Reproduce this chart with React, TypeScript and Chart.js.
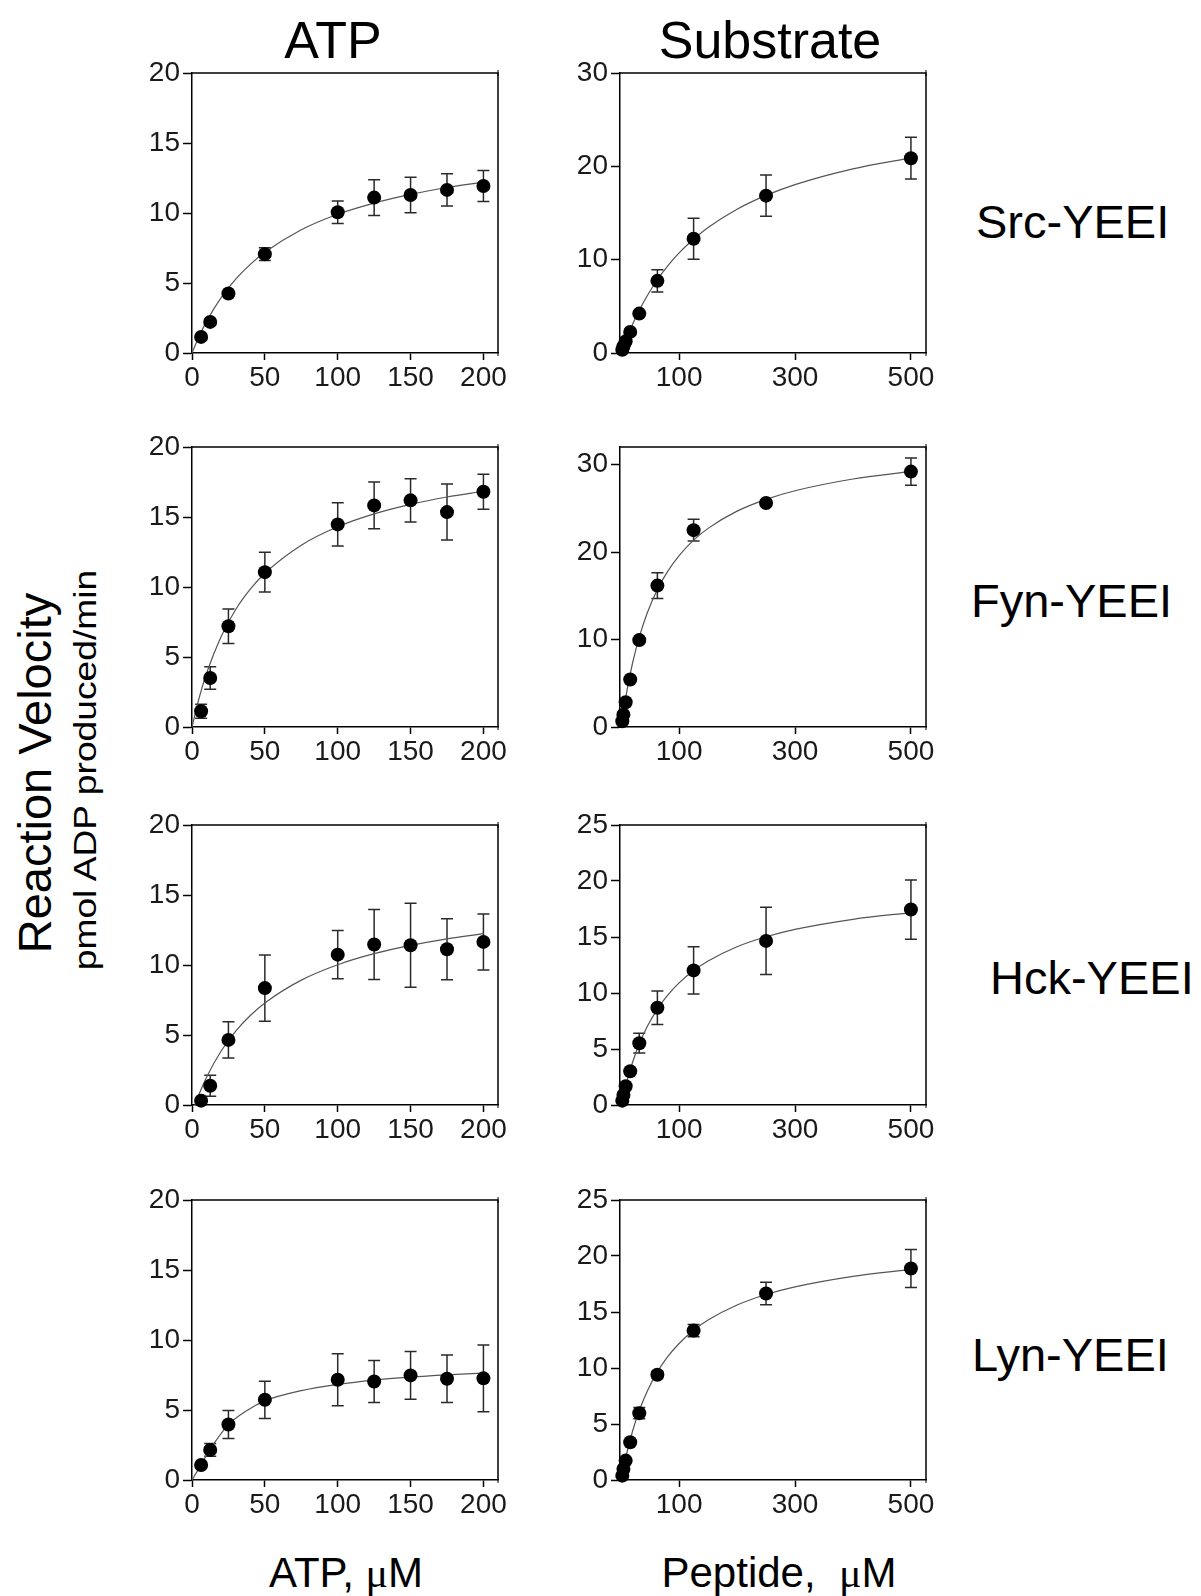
import React, { useEffect, useRef } from "react";
import { Chart, registerables } from "chart.js";

Chart.register(...registerables);

// ---------------- Data ----------------
const atpConc = [6.25, 12.5, 25, 50, 100, 125, 150, 175, 200];
const peptideConc = [1.95, 3.9, 7.8, 15.6, 31.25, 62.5, 125, 250, 500];

const atpXTicks = [0, 50, 100, 150, 200];
const peptideXTicks = [100, 300, 500];
const yTicks20 = [0, 5, 10, 15, 20];
const yTicks30 = [0, 10, 20, 30];
const yTicks25 = [0, 5, 10, 15, 20, 25];

const atpFitX = [0, 5, 10, 20, 30, 40, 50, 75, 100, 125, 150, 175, 200];
const pepFitX = [0, 5, 10, 20, 31.25, 45, 62.5, 80, 100, 125, 150, 200, 250, 300, 400, 500];

// Src-YEEI
const srcAtpV = [1.15, 2.22, 4.25, 7.06, 10.05, 11.1, 11.29, 11.65, 11.93];
const srcAtpErr = [0, 0, 0, 0.45, 0.8, 1.27, 1.27, 1.15, 1.1];
const srcAtpFitY = [0, 1.21, 2.26, 3.95, 5.27, 6.33, 7.19, 8.8, 9.91, 10.71, 11.33, 11.82, 12.21];
const srcPepV = [0.35, 0.7, 1.25, 2.26, 4.22, 7.73, 12.24, 16.86, 20.87];
const srcPepErr = [0, 0, 0, 0, 0, 1.2, 2.2, 2.2, 2.24];
const srcPepFitY = [0, 0.85, 1.66, 3.12, 4.58, 6.14, 7.85, 9.3, 10.72, 12.18, 13.45, 15.41, 16.89, 18.04, 19.73, 20.9];

// Fyn-YEEI
const fynAtpV = [1.12, 3.5, 7.2, 11.06, 14.47, 15.83, 16.19, 15.35, 16.8];
const fynAtpErr = [0.5, 0.8, 1.23, 1.42, 1.55, 1.67, 1.55, 2.0, 1.25];
const fynAtpFitY = [0, 2.12, 3.84, 6.47, 8.39, 9.84, 10.98, 12.99, 14.3, 15.22, 15.9, 16.43, 16.84];
const fynPepV = [0.65, 1.41, 2.83, 5.43, 9.93, 16.16, 22.5, 25.6, 29.19];
const fynPepErr = [0, 0, 0, 0, 0, 1.47, 1.25, 0, 1.55];
const fynPepFitY = [0, 2.22, 4.16, 7.4, 10.28, 13.03, 15.71, 17.76, 19.59, 21.35, 22.7, 24.67, 26.02, 27.0, 28.34, 29.21];

// Hck-YEEI
const hckAtpV = [0.31, 1.38, 4.65, 8.35, 10.74, 11.46, 11.41, 11.12, 11.65];
const hckAtpErr = [0, 0.75, 1.3, 2.36, 1.72, 2.5, 3.0, 2.18, 2.0];
const hckAtpFitX = [2, 5, 10, 20, 30, 40, 50, 75, 100, 125, 150, 175, 200];
const hckAtpFitY = [0, 0.81, 1.99, 3.86, 5.28, 6.39, 7.29, 8.92, 10.02, 10.81, 11.4, 11.87, 12.24];
const hckPepV = [0.39, 0.9, 1.67, 3.01, 5.52, 8.68, 12.02, 14.65, 17.45];
const hckPepErr = [0, 0, 0, 0, 0.88, 1.5, 2.1, 3.0, 2.64];
const hckPepFitY = [0, 1.13, 2.13, 3.86, 5.44, 7.0, 8.56, 9.78, 10.9, 12.0, 12.86, 14.13, 15.02, 15.68, 16.58, 17.18];

// Lyn-YEEI
const lynAtpV = [1.07, 2.15, 3.96, 5.73, 7.16, 7.04, 7.47, 7.23, 7.26];
const lynAtpErr = [0, 0.45, 1.0, 1.33, 1.86, 1.5, 1.7, 1.7, 2.39];
const lynAtpFitX = [0, 6.25, 12.5, 25, 37.5, 50, 75, 100, 125, 150, 175, 200];
const lynAtpFitY = [0, 1.1, 2.2, 3.95, 4.95, 5.65, 6.38, 6.83, 7.14, 7.35, 7.51, 7.64];
const lynPepV = [0.39, 0.98, 1.73, 3.37, 5.97, 9.4, 13.34, 16.65, 18.88];
const lynPepErr = [0, 0, 0, 0, 0.5, 0.3, 0.55, 1.0, 1.7];
const lynPepFitY = [0, 1.3, 2.46, 4.42, 6.2, 7.93, 9.65, 10.99, 12.19, 13.37, 14.28, 15.62, 16.56, 17.24, 18.18, 18.8];

const rowLabels = ["Src-YEEI", "Fyn-YEEI", "Hck-YEEI", "Lyn-YEEI"];

// ---------------- Layout ----------------
const COL_LEFT = [192, 620];
const ROW_TOP = [73, 447, 825, 1200];
const PLOT_W = 306;
const PLOT_H = 280;
const AX_W = 70;
const PAD_TOP = 20;
const PAD_RIGHT = 15;
const AX_H = 45;

type PanelDef = {
  col: number;
  row: number;
  x: number[];
  y: number[];
  err: number[];
  fx: number[];
  fy: number[];
  xMin: number;
  xMax: number;
  yMax: number;
  xTicks: number[];
  yTicks: number[];
};

const panels: PanelDef[] = [
  { col: 0, row: 0, x: atpConc, y: srcAtpV, err: srcAtpErr, fx: atpFitX, fy: srcAtpFitY, xMin: 0, xMax: 210, yMax: 20, xTicks: atpXTicks, yTicks: yTicks20 },
  { col: 1, row: 0, x: peptideConc, y: srcPepV, err: srcPepErr, fx: pepFitX, fy: srcPepFitY, xMin: -2, xMax: 526, yMax: 30, xTicks: peptideXTicks, yTicks: yTicks30 },
  { col: 0, row: 1, x: atpConc, y: fynAtpV, err: fynAtpErr, fx: atpFitX, fy: fynAtpFitY, xMin: 0, xMax: 210, yMax: 20, xTicks: atpXTicks, yTicks: yTicks20 },
  { col: 1, row: 1, x: peptideConc, y: fynPepV, err: fynPepErr, fx: pepFitX, fy: fynPepFitY, xMin: -2, xMax: 526, yMax: 32, xTicks: peptideXTicks, yTicks: yTicks30 },
  { col: 0, row: 2, x: atpConc, y: hckAtpV, err: hckAtpErr, fx: hckAtpFitX, fy: hckAtpFitY, xMin: 0, xMax: 210, yMax: 20, xTicks: atpXTicks, yTicks: yTicks20 },
  { col: 1, row: 2, x: peptideConc, y: hckPepV, err: hckPepErr, fx: pepFitX, fy: hckPepFitY, xMin: -2, xMax: 526, yMax: 25, xTicks: peptideXTicks, yTicks: yTicks25 },
  { col: 0, row: 3, x: atpConc, y: lynAtpV, err: lynAtpErr, fx: lynAtpFitX, fy: lynAtpFitY, xMin: 0, xMax: 210, yMax: 20, xTicks: atpXTicks, yTicks: yTicks20 },
  { col: 1, row: 3, x: peptideConc, y: lynPepV, err: lynPepErr, fx: pepFitX, fy: lynPepFitY, xMin: -2, xMax: 526, yMax: 25, xTicks: peptideXTicks, yTicks: yTicks25 },
];

const FONT = '"Liberation Sans", Arial, Helvetica, sans-serif';

const boxPlugin = {
  id: "boxFrame",
  beforeDatasetsDraw(chart: any) {
    const { ctx, chartArea: a } = chart;
    ctx.save();
    ctx.strokeStyle = "#000";
    ctx.lineWidth = 1.5;
    ctx.beginPath();
    ctx.moveTo(a.left, a.top);
    ctx.lineTo(a.right, a.top);
    ctx.lineTo(a.right, a.bottom);
    ctx.stroke();
    // small corner marks
    ctx.lineWidth = 1;
    ctx.beginPath();
    ctx.moveTo(a.right, a.top - 3);
    ctx.lineTo(a.right, a.top + 3);
    ctx.moveTo(a.right, a.bottom);
    ctx.lineTo(a.right, a.bottom + 3);
    ctx.stroke();
    ctx.restore();
  },
};

const errorBarPlugin = {
  id: "errorBars",
  beforeDatasetsDraw(chart: any) {
    const { ctx } = chart;
    const xs = chart.scales.x;
    const ys = chart.scales.y;
    chart.data.datasets.forEach((ds: any) => {
      if (!ds.errors) return;
      ctx.save();
      ctx.strokeStyle = "#2a2a2a";
      ctx.lineWidth = 1.5;
      ds.data.forEach((pt: any, i: number) => {
        const e = ds.errors[i];
        if (!e) return;
        const px = xs.getPixelForValue(pt.x);
        const yTop = ys.getPixelForValue(pt.y + e);
        const yBot = ys.getPixelForValue(pt.y - e);
        const cap = 6;
        ctx.beginPath();
        ctx.moveTo(px, yTop);
        ctx.lineTo(px, yBot);
        ctx.moveTo(px - cap, yTop);
        ctx.lineTo(px + cap, yTop);
        ctx.moveTo(px - cap, yBot);
        ctx.lineTo(px + cap, yBot);
        ctx.stroke();
      });
      ctx.restore();
    });
  },
};

function Panel({ p }: { p: PanelDef }) {
  const ref = useRef<HTMLCanvasElement>(null);
  const cw = AX_W + PLOT_W + PAD_RIGHT;
  const chH = PAD_TOP + PLOT_H + AX_H;
  useEffect(() => {
    if (!ref.current) return;
    const tickFont = { family: FONT, size: 28 };
    const chart = new Chart(ref.current, {
      type: "scatter",
      data: {
        datasets: [
          {
            data: p.x.map((x, i) => ({ x, y: p.y[i] })),
            pointRadius: 7,
            pointHoverRadius: 7,
            pointBackgroundColor: "#000",
            pointBorderColor: "#000",
            pointBorderWidth: 0,
            backgroundColor: "#000",
            borderColor: "#000",
            clip: false,
            errors: p.err,
          } as any,
          {
            type: "line",
            data: p.fx.map((x, i) => ({ x, y: p.fy[i] })),
            showLine: true,
            borderColor: "#555",
            borderWidth: 1.2,
            pointRadius: 0,
            pointHoverRadius: 0,
            fill: false,
            cubicInterpolationMode: "monotone",
            clip: false,
          } as any,
        ],
      },
      options: {
        responsive: false,
        animation: false,
        devicePixelRatio: 1,
        events: [],
        layout: { padding: { top: PAD_TOP, right: PAD_RIGHT, left: 0, bottom: 0 } },
        plugins: { legend: { display: false }, tooltip: { enabled: false } },
        scales: {
          x: {
            type: "linear",
            min: p.xMin,
            max: p.xMax,
            afterBuildTicks: (s: any) => {
              s.ticks = p.xTicks.map((v) => ({ value: v }));
            },
            afterFit: (s: any) => {
              s.height = AX_H;
            },
            border: { display: true, color: "#000", width: 1.5 },
            grid: {
              display: true,
              drawOnChartArea: false,
              drawTicks: true,
              tickLength: 7,
              tickColor: "#000",
              tickWidth: 1.5,
            },
            ticks: {
              color: "#1a1a1a",
              font: tickFont,
              padding: 1,
              maxRotation: 0,
              autoSkip: false,
              callback: (v: any) => String(v),
            },
          },
          y: {
            type: "linear",
            min: 0,
            max: p.yMax,
            afterBuildTicks: (s: any) => {
              s.ticks = p.yTicks.map((v) => ({ value: v }));
            },
            afterFit: (s: any) => {
              s.width = AX_W;
            },
            border: { display: true, color: "#000", width: 1.5 },
            grid: {
              display: true,
              drawOnChartArea: false,
              drawTicks: true,
              tickLength: 9,
              tickColor: "#000",
              tickWidth: 1.5,
            },
            ticks: {
              color: "#1a1a1a",
              font: tickFont,
              padding: 3,
              autoSkip: false,
              callback: (v: any) => String(v),
            },
          },
        },
      } as any,
      plugins: [boxPlugin, errorBarPlugin],
    });
    return () => chart.destroy();
  }, []);
  return (
    <canvas
      ref={ref}
      width={cw}
      height={chH}
      style={{
        position: "absolute",
        left: COL_LEFT[p.col] - AX_W,
        top: ROW_TOP[p.row] - PAD_TOP,
        width: cw,
        height: chH,
      }}
    />
  );
}

const mu = (
  <span style={{ fontFamily: '"Liberation Serif", "DejaVu Serif", serif' }}>μ</span>
);

function Label({
  text,
  left,
  top,
  size,
  center,
}: {
  text: any;
  left: number;
  top: number;
  size: number;
  center?: boolean;
}) {
  return (
    <div
      style={{
        position: "absolute",
        left,
        top,
        fontSize: size,
        lineHeight: `${size}px`,
        whiteSpace: "nowrap",
        transform: center ? "translateX(-50%)" : undefined,
      }}
    >
      {text}
    </div>
  );
}

export default function App() {
  const rowLabelPos = [
    { left: 976, base: 238 },
    { left: 971, base: 617 },
    { left: 990, base: 994 },
    { left: 972, base: 1371 },
  ];
  const top = (base: number, size: number) => base - 0.8465 * size;
  return (
    <div
      style={{
        position: "absolute",
        left: 0,
        top: 0,
        width: 1201,
        height: 1596,
        background: "#fff",
        fontFamily: FONT,
        color: "#000",
        overflow: "hidden",
      }}
    >
      <Label text="ATP" left={333} top={top(58, 52)} size={52} center />
      <Label text="Substrate" left={770} top={top(58, 52)} size={52} center />
      {rowLabels.map((t, i) => (
        <Label key={t} text={t} left={rowLabelPos[i].left} top={top(rowLabelPos[i].base, 47)} size={47} />
      ))}
      <Label text={<>ATP, {mu}M</>} left={346} top={top(1588, 42)} size={42} center />
      <Label text={<>Peptide, &nbsp;{mu}M</>} left={779} top={top(1588, 42)} size={42} center />
      <div
        style={{
          position: "absolute",
          left: 34,
          top: 773,
          fontSize: 47,
          lineHeight: "47px",
          whiteSpace: "nowrap",
          transform: "translate(-50%, -50%) rotate(-90deg)",
        }}
      >
        Reaction Velocity
      </div>
      <div
        style={{
          position: "absolute",
          left: 85,
          top: 770,
          fontSize: 31,
          lineHeight: "31px",
          whiteSpace: "nowrap",
          transform: "translate(-50%, -50%) rotate(-90deg) scaleX(1.2)",
        }}
      >
        pmol ADP produced/min
      </div>
      {panels.map((p, i) => (
        <Panel key={i} p={p} />
      ))}
    </div>
  );
}
